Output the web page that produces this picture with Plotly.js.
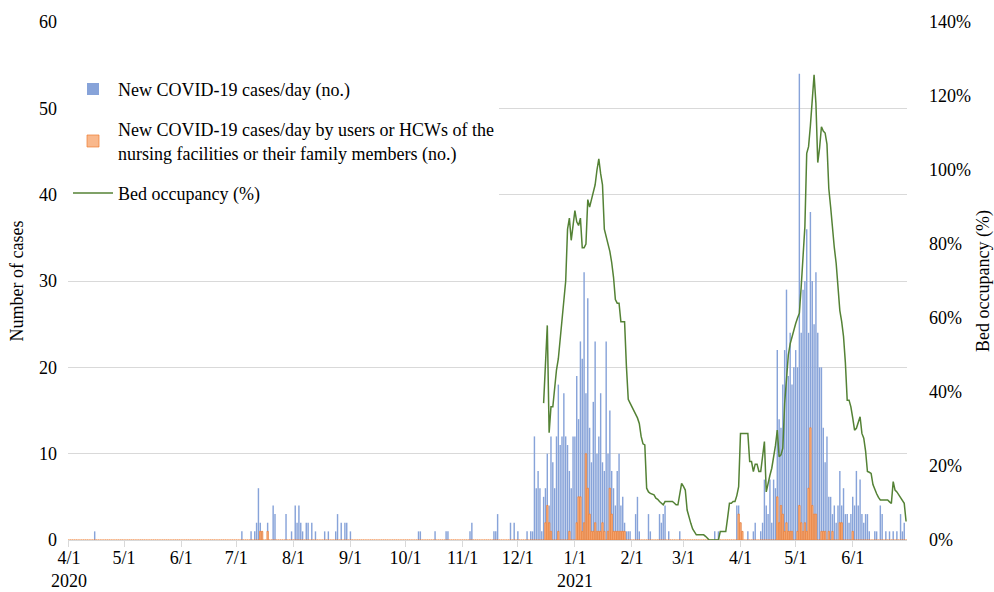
<!DOCTYPE html>
<html>
<head>
<meta charset="utf-8">
<script src="https://cdn.plot.ly/plotly-3.0.1.min.js"></script>
<style>html,body{margin:0;padding:0;background:#fff;}#chart{width:994px;height:592px;}</style>
</head>
<body>
<div id="chart"></div>
<script>
// Daily series start on 2020-04-01 (one value per day, one line per month)
const caseStart = '2020-04-01';
const newCases = [
  0,0,0,0,0,0,0,0,0,0, 0,0,0,0,1,0,0,0,0,0, 0,0,0,0,0,0,0,0,0,0,          // Apr 2020
  0,0,0,0,0,0,0,0,0,0, 0,0,0,0,0,0,0,0,0,0, 0,0,0,0,0,0,0,0,0,0, 0,        // May
  0,0,0,0,0,0,0,0,0,0, 0,0,0,0,0,0,0,0,0,0, 0,0,0,0,0,0,0,0,0,0,          // Jun
  0,0,0,1,0,0,0,0,1,0, 1,2,6,2,1,0,0,2,0,0, 4,3,0,0,0,0,0,3,0,0, 1,        // Jul
  0,4,2,4,2,1,0,2,2,0, 2,0,1,0,0,0,0,1,0,1, 0,0,0,1,3,0,2,0,2,2, 0,        // Aug
  1,0,0,0,0,0,0,0,0,0, 0,0,0,0,0,0,0,0,0,0, 0,0,0,0,0,0,0,0,0,0,          // Sep
  0,0,0,0,0,0,0,1,1,0, 0,0,0,0,0,0,1,0,0,0, 0,0,1,1,0,0,0,0,0,0, 0,        // Oct
  0,0,0,0,1,2,0,0,0,0, 0,0,0,0,0,0,0,1,1,3, 0,0,0,0,0,0,2,0,2,0,          // Nov
  1,0,0,0,0,1,0,1,1,12, 6,8,6,1,5,6,10,4,12,9, 6,12,18,11,12,17,12,11,8,6, 12,   // Dec
  12,19,14,23,21,31,17,28,13,9, 16,23,10,12,17,9,8,23,10,15, 8,6,4,8,10,4,5,2,1,1, 1, // Jan 2021
  0,0,3,5,1,0,0,0,0,3, 1,0,0,0,0,3,2,3,4,0, 1,0,0,0,0,0,1,0,              // Feb
  0,0,0,0,0,0,0,0,0,0, 0,0,0,0,0,0,0,1,0,1, 0,0,0,0,0,0,0,0,0,4, 4,        // Mar
  2,1,0,0,1,0,0,1,2,0, 0,1,2,7,4,3,7,2,7,6, 22,14,13,18,22,29,19,24,18,20,    // Apr
  22,20,54,24,29,30,36,24,38,30, 25,31,24,20,20,13,9,12,5,5, 3,4,2,4,8,4,6,3,3,2, 3, // May
  5,4,8,4,7,3,2,3,3,1, 0,0,1,1,0,4,3,0,1,0, 1,0,1,0,1,0,3,1,2,0           // Jun
];
const nursingCases = [
  0,0,0,0,0,0,0,0,0,0, 0,0,0,0,0,0,0,0,0,0, 0,0,0,0,0,0,0,0,0,0,          // Apr 2020
  0,0,0,0,0,0,0,0,0,0, 0,0,0,0,0,0,0,0,0,0, 0,0,0,0,0,0,0,0,0,0, 0,        // May
  0,0,0,0,0,0,0,0,0,0, 0,0,0,0,0,0,0,0,0,0, 0,0,0,0,0,0,0,0,0,0,          // Jun
  0,0,0,0,0,0,0,0,0,0, 0,0,0,1,1,0,0,1,0,0, 0,0,0,0,0,0,0,0,0,0, 0,        // Jul
  0,0,0,0,0,0,0,0,0,0, 0,0,0,0,0,0,0,0,0,0, 0,0,0,0,0,0,0,0,0,0, 0,        // Aug
  0,0,0,0,0,0,0,0,0,0, 0,0,0,0,0,0,0,0,0,0, 0,0,0,0,0,0,0,0,0,0,          // Sep
  0,0,0,0,0,0,0,0,0,0, 0,0,0,0,0,0,0,0,0,0, 0,0,0,0,0,0,0,0,0,0, 0,        // Oct
  0,0,0,0,0,0,0,0,0,0, 0,0,0,0,0,0,0,0,0,0, 0,0,0,0,0,0,0,0,0,0,          // Nov
  0,0,0,0,0,0,0,0,0,0, 0,0,0,0,0,2,4,2,1,0, 0,0,1,0,0,0,0,0,1,0, 0,        // Dec
  0,2,5,5,1,2,10,6,3,1, 1,2,1,1,1,2,1,0,1,6, 3,1,1,1,1,1,1,1,0,0, 0,       // Jan 2021
  0,0,0,0,0,0,0,0,0,0, 0,0,0,0,0,0,0,0,0,0, 0,0,0,0,0,0,0,0,              // Feb
  0,0,0,0,0,0,0,0,0,0, 0,0,0,0,0,0,0,0,0,0, 0,0,0,0,0,0,0,0,0,0, 3,        // Mar
  2,1,0,0,0,0,0,0,0,0, 0,0,0,0,0,0,0,0,0,0, 5,2,4,3,1,2,1,1,1,0,          // Apr
  0,1,4,2,1,2,1,6,13,4, 3,3,0,0,1,1,1,0,1,0, 1,0,0,0,2,2,0,0,0,0, 0,       // May
  1,0,0,0,0,0,0,0,0,0, 0,0,0,0,0,0,0,0,0,0, 0,0,0,0,0,0,0,0,0,0           // Jun
];
// Bed occupancy (%), daily from 2020-12-15
const bedStart = '2020-12-15';
const bedOccupancy = [
  37,46,58,29,36,36,42,46,49,54,61,66,70,84,87,81,86,                                   // Dec 15-31
  89,86,85,87,79,79,80,92,90,92,94,96,100,103,99,96,84,82,80,78,75,71,65,64,64,59,59,59,47,38,37, // Jan
  36,35,34,33,31.5,28,26,25.7,14,13,12.6,12.4,12.2,11.3,11,10.4,10,9.5,10.4,10.4,10.2,10.4,10.4,10,9.5,9.5,12.6,15.3, // Feb
  14.5,13.5,8.1,6,4.5,3,2,1.4,1.4,1.4,1.4,1.4,1,0.5,0,0,0,0,0,0,2.3,2.3,2.3,2.3,6,9.9,9.9,10.4,10.4,12,14.4, // Mar
  28.8,28.8,28.8,28.8,28.8,21.2,21.2,18.5,20.5,20.5,18.5,18.5,23.4,26.6,13,15.5,17.5,19.4,22,25.5,29.7,22.5,23,24.8,36.9,44,50,53,55,57.2, // Apr
  58.5,60,61.3,68.5,77.5,84.7,104.5,106.3,112,118,125.7,118,102,106,111.7,110.5,110,107,95,90,84,79,74.8,68.5,62,59,55,48,37.8,37.8,36, // May
  33,29.7,30.2,32,33.3,28.8,27.5,24,18.5,18.3,18,15,13.5,12.5,11.5,10.8,10.8,10.8,10.8,10.8,10.3,9.9,15.8,13.5,13,12.2,11.5,10.8,9.9,5 // Jun
];
// X-axis ticks
const tickDates = ['2020-04-01','2020-05-01','2020-06-01','2020-07-01','2020-08-01','2020-09-01','2020-10-01','2020-11-01','2020-12-01','2021-01-01','2021-02-01','2021-03-01','2021-04-01','2021-05-01','2021-06-01'];
const tickLabels = ['4/1<br>2020','5/1','6/1','7/1','8/1','9/1','10/1','11/1','12/1','1/1<br>2021','2/1','3/1','4/1','5/1','6/1'];
const seriesNames = [
  'New COVID-19 cases/day (no.)',
  'New COVID-19 cases/day by users or HCWs of the<br>nursing facilities or their family members (no.)',
  'Bed occupancy (%)'
];

function dayList(start, n) {
  const p = start.split('-').map(Number);
  const t0 = Date.UTC(p[0], p[1] - 1, p[2]);
  const out = [];
  for (let i = 0; i < n; i++) out.push(new Date(t0 + i * 86400000).toISOString().slice(0, 10));
  return out;
}
const caseDays = dayList(caseStart, newCases.length);
const bedDays = dayList(bedStart, bedOccupancy.length);

const FONT = 'Liberation Serif, Times New Roman, serif';

const traces = [
  {
    type: 'bar', x: caseDays, y: newCases, name: seriesNames[0], legendgroup: 'a',
    marker: {color: '#87A3D9', line: {width: 0}}, yaxis: 'y'
  },
  {
    type: 'bar', x: caseDays, y: nursingCases, name: seriesNames[1], legendgroup: 'b',
    marker: {color: '#F9B88C', line: {color: '#EE7D31', width: 0.7}}, yaxis: 'y'
  },
  {
    type: 'scatter', mode: 'lines', x: bedDays, y: bedOccupancy, name: seriesNames[2], legendgroup: 'c',
    line: {color: '#548235', width: 1.5}, yaxis: 'y2'
  }
];

const layout = {
  width: 994, height: 592,
  margin: {l: 68, r: 87, t: 22, b: 52, pad: 0},
  paper_bgcolor: '#fff', plot_bgcolor: '#fff',
  font: {family: FONT, size: 18, color: '#000'},
  barmode: 'overlay', bargap: 0.22,
  showlegend: true,
  legend: {
    x: 0.0, y: 0.906, xanchor: 'left', yanchor: 'top',
    bgcolor: '#fff', borderwidth: 0,
    font: {family: FONT, size: 18, color: '#000'},
    traceorder: 'grouped', tracegroupgap: 14, itemwidth: 40
  },
  xaxis: {
    type: 'date',
    range: ['2020-03-31 12:00', '2021-06-30 12:00'],
    tickmode: 'array', tickvals: tickDates, ticktext: tickLabels,
    showgrid: false, zeroline: false,
    showline: true, linecolor: '#D9D9D9', linewidth: 1,
    ticks: 'outside', ticklen: 6, tickcolor: '#D9D9D9', tickwidth: 1,
    tickfont: {family: FONT, size: 18, color: '#000'},
    ticklabelstandoff: -5,
    tickangle: 0
  },
  yaxis: {
    range: [0, 60], dtick: 10, tick0: 0,
    showgrid: true, gridcolor: '#D9D9D9', gridwidth: 1,
    zeroline: false, showline: false, ticks: '',
    tickfont: {family: FONT, size: 18, color: '#000'},
    ticklabelstandoff: 10,
    title: {text: 'Number of cases', font: {family: FONT, size: 18, color: '#000'}, standoff: 10}
  },
  yaxis2: {
    overlaying: 'y', side: 'right',
    range: [0, 140], dtick: 20, tick0: 0, ticksuffix: '%',
    showgrid: false, zeroline: false, showline: false, ticks: '',
    tickfont: {family: FONT, size: 18, color: '#000'},
    ticklabelstandoff: 21,
    title: {text: 'Bed occupancy (%)', font: {family: FONT, size: 18, color: '#000'}, standoff: 8}
  }
};

Plotly.newPlot('chart', traces, layout, {displayModeBar: false, staticPlot: true});
</script>
</body>
</html>
